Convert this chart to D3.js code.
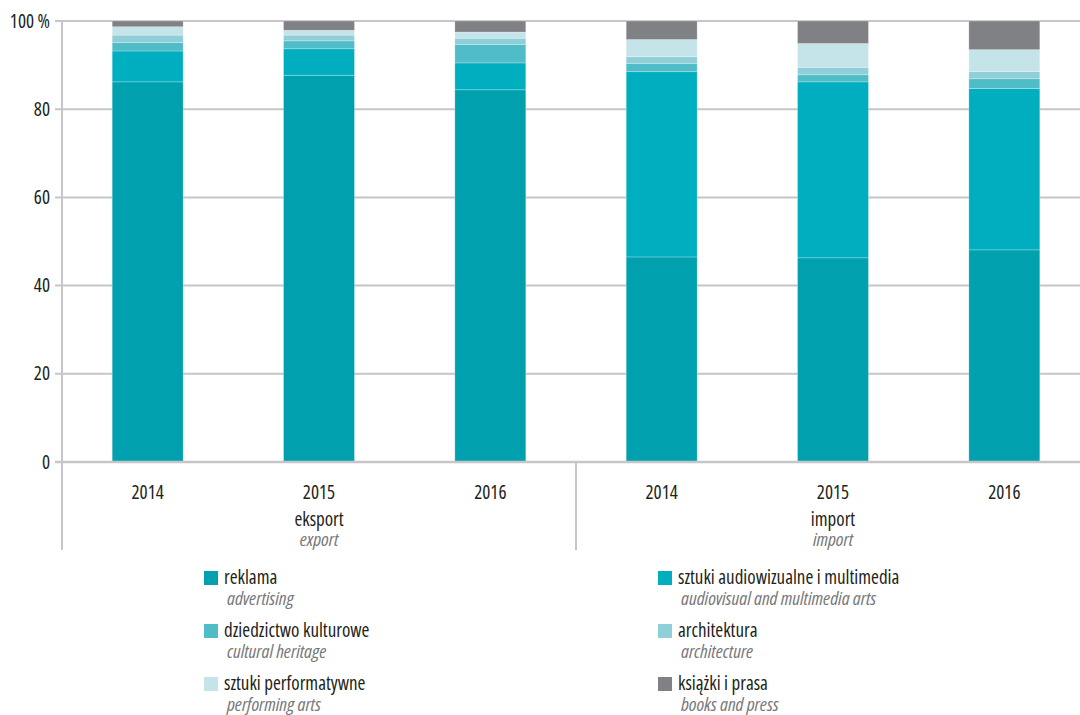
<!DOCTYPE html>
<html>
<head>
<meta charset="utf-8">
<script src="https://cdn.jsdelivr.net/npm/d3@7"></script>
<style>
  html, body { margin: 0; padding: 0; background: #fff; }
  svg { display: block; }
  text { font-family: "Open Sans", sans-serif; font-stretch: 75%; }
</style>
</head>
<body>
<svg id="chart" width="1080" height="715"></svg>
<script>
// Categories: year within flow (export / import)
const groups = ["eksport", "import"];
const groupsEn = ["export", "import"];
const years = ["2014", "2015", "2016"];
const categories = ["eksport-2014", "eksport-2015", "eksport-2016", "import-2014", "import-2015", "import-2016"];

// Series shares (%), stacked bottom to top
const seriesKeys = ["reklama", "audiowizualne", "dziedzictwo", "architektura", "performatywne", "ksiazki"];
const reklama       = [86.2, 87.7, 84.4, 46.5, 46.3, 48.1];
const audiowizualne = [7.0,  6.0,  6.1,  42.0, 39.9, 36.6];
const dziedzictwo   = [1.9,  1.8,  4.2,  1.9,  1.6,  2.2];
const architektura  = [1.7,  1.3,  1.4,  1.5,  1.7,  1.6];
const performatywne = [1.9,  1.1,  1.4,  3.9,  5.4,  5.0];
const ksiazki       = [1.3,  2.1,  2.5,  4.2,  5.1,  6.5];

const labelsPl = ["reklama", "sztuki audiowizualne i multimedia", "dziedzictwo kulturowe", "architektura", "sztuki performatywne", "książki i prasa"];
const labelsEn = ["advertising", "audiovisual and multimedia arts", "cultural heritage", "architecture", "performing arts", "books and press"];
const colors = ["#00a0af", "#00afbf", "#50bcc7", "#8ecfd8", "#c5e4ea", "#808184"];
const yTicks = [0, 20, 40, 60, 80, 100];

const seriesValues = [reklama, audiowizualne, dziedzictwo, architektura, performatywne, ksiazki];
const table = categories.map((c, i) => {
  const row = { cat: c };
  seriesKeys.forEach((k, j) => row[k] = seriesValues[j][i]);
  return row;
});

const svg = d3.select("#chart");
const x0 = 62, x1 = 1090, yTop = 21, yBottom = 462, axisBottom = 550;

const x = d3.scaleBand().domain(categories).range([x0, x1]).paddingInner(0.586).paddingOuter(0.293);
const y = d3.scaleLinear().domain([0, 100]).range([yBottom, yTop]);
const gridColor = "#c6c6ca";
const fs = 19;

// horizontal grid lines
svg.append("g").selectAll("line").data(yTicks).join("line")
  .attr("x1", x0 - 7).attr("x2", 1080)
  .attr("y1", d => y(d)).attr("y2", d => y(d))
  .attr("stroke", gridColor).attr("stroke-width", 2);

// y tick labels
svg.append("g").selectAll("text").data(yTicks).join("text")
  .attr("x", 50).attr("y", d => y(d))
  .attr("dy", "0.35em").attr("text-anchor", "end")
  .attr("font-size", fs).attr("fill", "#231f20")
  .text(d => d === 100 ? "100 %" : d);

// stacked bars
const stacked = d3.stack().keys(seriesKeys)(table);
svg.append("g").selectAll("g").data(stacked).join("g")
  .attr("fill", (d, i) => colors[i])
  .selectAll("rect").data(d => d).join("rect")
  .attr("x", d => x(d.data.cat))
  .attr("width", x.bandwidth())
  .attr("y", d => y(d[1]))
  .attr("height", d => y(d[0]) - y(d[1]))
  .attr("stroke", "rgba(255,255,255,0.35)").attr("stroke-width", 0.7);

// zero line on top of bars
svg.append("line").attr("x1", x0 - 7).attr("x2", 1080)
  .attr("y1", y(0)).attr("y2", y(0))
  .attr("stroke", gridColor).attr("stroke-width", 2.5);

// vertical axis line and group separator
svg.append("line").attr("x1", x0).attr("x2", x0).attr("y1", yTop).attr("y2", axisBottom)
  .attr("stroke", gridColor).attr("stroke-width", 2);
const sep = (x(categories[2]) + x.bandwidth() + x(categories[3])) / 2;
svg.append("line").attr("x1", sep).attr("x2", sep).attr("y1", yBottom).attr("y2", axisBottom)
  .attr("stroke", gridColor).attr("stroke-width", 2);

// year labels
svg.append("g").selectAll("text").data(categories).join("text")
  .attr("x", d => x(d) + x.bandwidth() / 2).attr("y", 499)
  .attr("text-anchor", "middle").attr("font-size", fs).attr("fill", "#231f20")
  .text(d => d.split("-")[1]);

// group labels
groups.forEach((g, i) => {
  const cx = x(categories[i * 3 + 1]) + x.bandwidth() / 2;
  svg.append("text").attr("x", cx).attr("y", 526).attr("text-anchor", "middle")
    .attr("font-size", fs).attr("fill", "#231f20").text(g);
  svg.append("text").attr("x", cx).attr("y", 546).attr("text-anchor", "middle")
    .attr("font-size", fs).attr("font-style", "italic").attr("fill", "#77787b").text(groupsEn[i]);
});

// legend: two columns, three rows
const legendCols = [204, 658];
const legendRows = [571, 624, 677];
const legendOrder = [0, 2, 4, 1, 3, 5];
legendOrder.forEach((si, k) => {
  const col = Math.floor(k / 3), row = k % 3;
  const lx = legendCols[col], ly = legendRows[row];
  const g = svg.append("g");
  g.append("rect").attr("x", lx).attr("y", ly).attr("width", 14).attr("height", 14).attr("fill", colors[si]);
  g.append("text").attr("x", lx + 20).attr("y", ly + 13).attr("font-size", fs)
    .attr("fill", "#231f20").text(labelsPl[si]);
  g.append("text").attr("x", lx + 23).attr("y", ly + 34).attr("font-size", fs)
    .attr("font-style", "italic").attr("fill", "#77787b").text(labelsEn[si]);
});
</script>
</body>
</html>
